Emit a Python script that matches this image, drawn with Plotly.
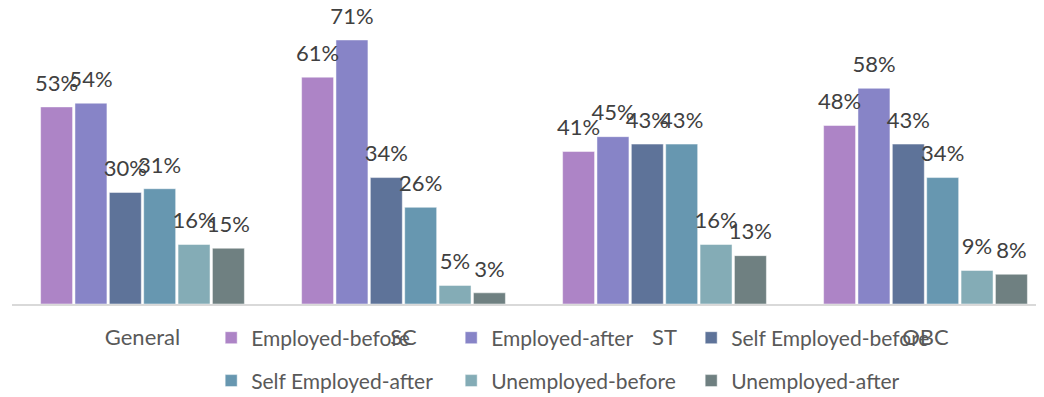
import plotly.graph_objects as go

categories = ["General", "SC", "ST", "OBC"]
series_names = ["Employed-before", "Employed-after", "Self Employed-before",
                "Self Employed-after", "Unemployed-before", "Unemployed-after"]
employed_before = [0.53, 0.61, 0.41, 0.48]
employed_after = [0.54, 0.71, 0.45, 0.58]
self_employed_before = [0.30, 0.34, 0.43, 0.43]
self_employed_after = [0.31, 0.26, 0.43, 0.34]
unemployed_before = [0.16, 0.05, 0.16, 0.09]
unemployed_after = [0.15, 0.03, 0.13, 0.08]
series_values = [employed_before, employed_after, self_employed_before,
                 self_employed_after, unemployed_before, unemployed_after]
colors = ["#AD84C6", "#8784C7", "#5E7399", "#6797B0", "#84ACB6", "#6F8081"]

FONT = "Lato, Calibri, Carlito, sans-serif"
LABEL_GAP = 0.022  # visual gap between bar top and its label (data units)

fig = go.Figure()
for i, (name, vals, col) in enumerate(zip(series_names, series_values, colors)):
    fig.add_trace(go.Bar(
        x=categories, y=vals, name=name, offsetgroup=str(i),
        marker=dict(color=col, line=dict(color="rgba(255,255,255,0.6)", width=0.8)),
        legend="legend" if i < 3 else "legend2",
        hoverinfo="skip",
    ))
for i, vals in enumerate(series_values):
    fig.add_trace(go.Bar(
        x=categories, y=[LABEL_GAP] * len(vals), base=vals, offsetgroup=str(i),
        marker=dict(color="rgba(0,0,0,0)", line=dict(width=0)), showlegend=False,
        text=[f"{round(v * 100)}%" for v in vals], textposition="outside",
        constraintext="none", cliponaxis=False,
        textfont=dict(family=FONT, size=22, color="#404040"),
        hoverinfo="skip",
    ))

fig.update_layout(
    width=1036, height=397,
    margin=dict(l=4, r=0, t=0, b=101),
    plot_bgcolor="white", paper_bgcolor="white",
    barmode="group", bargap=0.21, bargroupgap=0.07,
    font=dict(family=FONT, color="#595959", size=20),
    xaxis=dict(range=[-0.5, 3.454], showline=True, linecolor="#D9D9D9", linewidth=1.5,
               ticks="", ticklabelstandoff=13,
               tickfont=dict(family=FONT, size=22, color="#595959")),
    yaxis=dict(range=[0, 0.796], showticklabels=False, showgrid=False, zeroline=False),
    legend=dict(orientation="h", x=0.193, xanchor="left", y=-0.115, yanchor="middle",
                entrywidth=195, entrywidthmode="pixels",
                font=dict(family=FONT, size=21, color="#595959"), bgcolor="rgba(0,0,0,0)"),
    legend2=dict(orientation="h", x=0.193, xanchor="left", y=-0.26, yanchor="middle",
                 entrywidth=195, entrywidthmode="pixels",
                 font=dict(family=FONT, size=21, color="#595959"), bgcolor="rgba(0,0,0,0)"),
)

fig.write_html("out.html")
